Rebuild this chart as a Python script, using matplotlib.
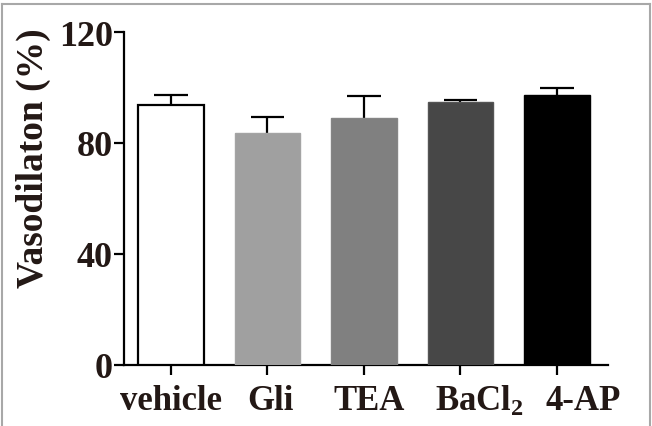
import matplotlib
matplotlib.use("Agg")
import matplotlib.pyplot as plt
from matplotlib.lines import Line2D
import matplotlib.transforms as mtransforms
import numpy as np

categories = ["vehicle", "Gli", "TEA", r"BaCl$_\mathregular{2}$", "4-AP"]
means = [93.7, 83.5, 88.9, 94.9, 97.4]
errors = [3.6, 5.7, 7.9, 0.7, 2.5]
fill_colors = ["#ffffff", "#a0a0a0", "#808080", "#474747", "#000000"]
edge_colors = ["#000000", "#a4a4a4", "#858585", "#555555", "#000000"]
label_offsets_px = [0, 3, 5, 19, 26]
yticks = [0, 40, 80, 120]

txt = "#231815"
plt.rcParams["font.family"] = ["Liberation Serif", "DejaVu Serif"]
plt.rcParams["font.weight"] = "bold"
plt.rcParams["mathtext.fontset"] = "custom"
plt.rcParams["mathtext.rm"] = "Liberation Serif:bold"
plt.rcParams["mathtext.it"] = "Liberation Serif:bold:italic"
plt.rcParams["mathtext.bf"] = "Liberation Serif:bold"

fig = plt.figure(figsize=(6.52, 4.27), dpi=100)
W, H = 652, 427
ax = fig.add_axes([124 / W, 1 - 366 / H, (608 - 124) / W, (366 - 33) / H])

x = np.arange(len(categories))
m = np.array(means)
e = np.array(errors)
ax.bar(x, m, width=0.68, color=fill_colors, edgecolor=edge_colors,
       linewidth=[1.6, 1, 1, 1, 1], zorder=3)
# upper-only error bars
ax.vlines(x, m, m + e, colors="black", linewidth=1.6, zorder=2)
ax.hlines(m + e, x - 0.175, x + 0.175, colors="black", linewidth=1.6, zorder=2)

ax.set_xlim(-0.487, 4.53)
ax.set_ylim(0, 120)
ax.set_yticks(yticks)
ax.set_yticklabels([str(v) for v in yticks], fontsize=26, fontweight="bold", color=txt)
ax.set_xticks(x)
ax.set_xticklabels([""] * len(x))
for s in ["top", "right"]:
    ax.spines[s].set_visible(False)
for s in ["left", "bottom"]:
    ax.spines[s].set_linewidth(1.6)
ax.tick_params(axis="y", length=7, width=1.6, pad=1)
ax.tick_params(axis="x", length=7, width=1.6)

trans = mtransforms.blended_transform_factory(ax.transData, ax.transAxes)
for i, (lab, off) in enumerate(zip(categories, label_offsets_px)):
    t = trans + mtransforms.ScaledTranslation(off / 100, -19 / 100, fig.dpi_scale_trans)
    ax.text(i, 0, lab, transform=t, ha="center", va="top", fontsize=25,
            fontweight="bold", color=txt)

fig.text(33 / W, 1 - 158 / H, "Vasodilaton (%)", rotation=90, ha="center",
         va="center", fontsize=27, fontweight="bold", color=txt)

bc = "#a8a8a8"
fig.add_artist(Line2D([1.5 / W, 1.5 / W], [0, 1 - 4.5 / H], transform=fig.transFigure, color=bc, lw=1.5))
fig.add_artist(Line2D([1.5 / W, 650 / W], [1 - 4.5 / H, 1 - 4.5 / H], transform=fig.transFigure, color=bc, lw=1.5))
fig.add_artist(Line2D([650 / W, 650 / W], [0, 1 - 4.5 / H], transform=fig.transFigure, color=bc, lw=1.5))

fig.savefig("out.png", dpi=100)
